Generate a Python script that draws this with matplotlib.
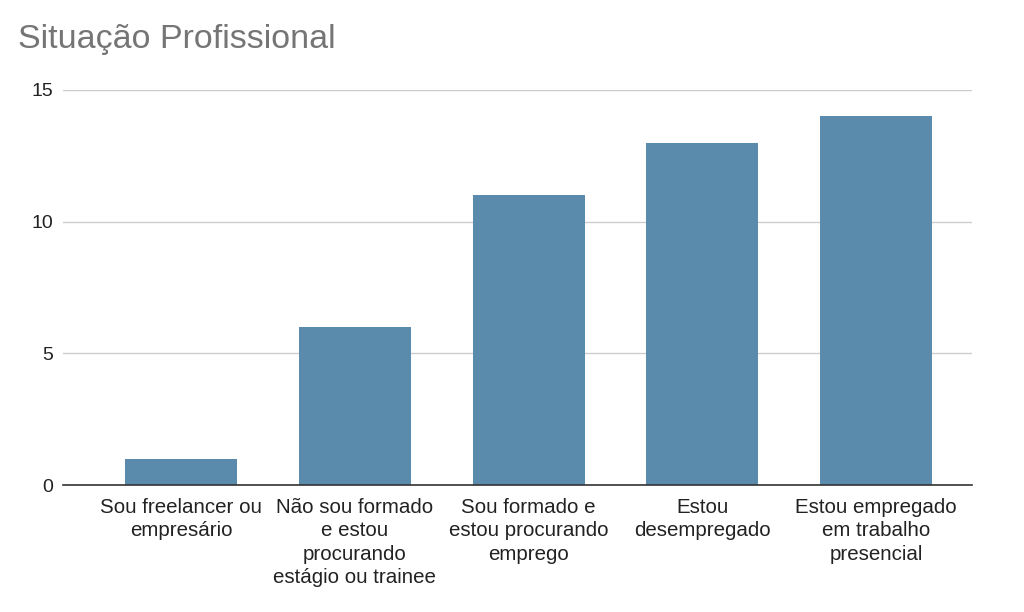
import numpy as np
import matplotlib.pyplot as plt

plt.rcParams['font.family'] = ['Liberation Sans', 'DejaVu Sans']

categorias = [
    "Sou freelancer ou\nempresário",
    "Não sou formado\ne estou\nprocurando\nestágio ou trainee",
    "Sou formado e\nestou procurando\nemprego",
    "Estou\ndesempregado",
    "Estou empregado\nem trabalho\npresencial",
]
valores = [1, 6, 11, 13, 14]
yticks = [0, 5, 10, 15]

fig = plt.figure(figsize=(10.24, 6.12), dpi=100)
ax = fig.add_axes([0.0615, 0.2075, 0.8875, 0.6455])

x = np.arange(len(categorias))
ax.bar(x, valores, width=0.645, color='#5a8bad', zorder=3)

ax.set_ylim(0, 15)
ax.set_xlim(-0.68, 4.55)
ax.set_yticks(yticks)
ax.set_xticks(x)
ax.set_xticklabels(categorias, fontsize=14.8, color='#222222', linespacing=1.3)
ax.tick_params(axis='y', labelsize=14, colors='#222222', length=0, pad=7)
ax.tick_params(axis='x', length=0, pad=9)

ax.grid(axis='y', color='#cccccc', linewidth=1, zorder=0)
for s in ['top', 'right', 'left']:
    ax.spines[s].set_visible(False)
ax.spines['bottom'].set_color('#333333')
ax.spines['bottom'].set_linewidth(1.2)
ax.spines['bottom'].set_zorder(4)

fig.text(0.018, 0.935, "Situação Profissional", fontsize=24.5, color='#757575',
         ha='left', va='center')

fig.savefig('out.png', dpi=100)
